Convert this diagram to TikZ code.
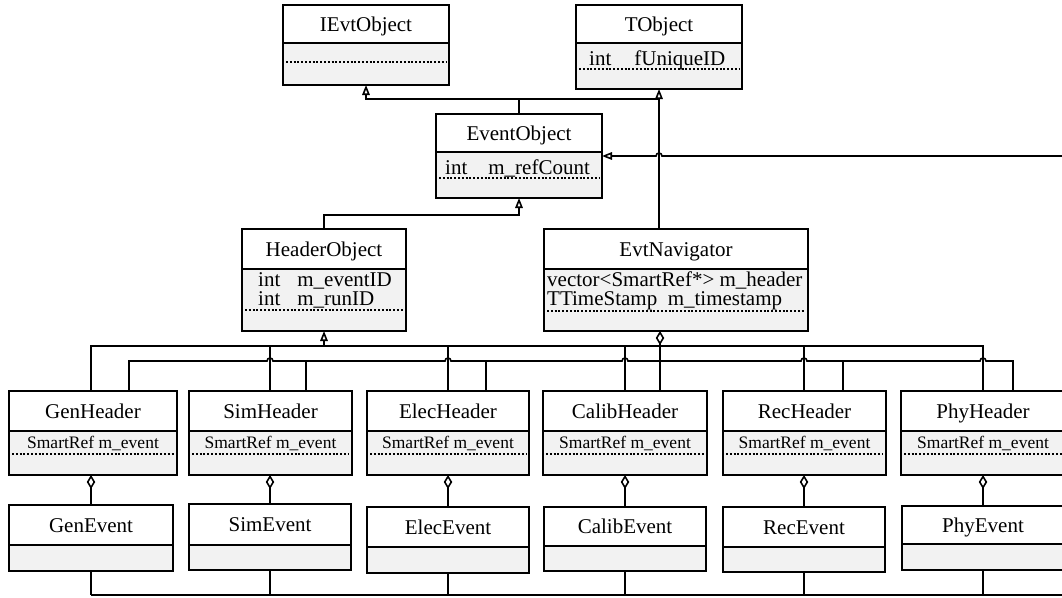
\documentclass[tikz,border=0pt]{standalone}
\usepackage{fontspec}
\setmainfont{Liberation Serif}
\usetikzlibrary{arrows.meta}
\definecolor{cfill}{HTML}{F2F2F2}
\tikzset{
  cls/.style={draw, line width=1.4pt, inner sep=0pt, outer sep=0pt, rectangle},
  ttl/.style={font=\fontsize{21}{24}\selectfont, inner sep=0pt, anchor=base},
  mem/.style={font=\fontsize{21}{24}\selectfont, inner sep=0pt, anchor=base west},
  hmem/.style={font=\fontsize{17.5}{20}\selectfont, inner sep=0pt, anchor=base},
  dotline/.style={line width=1.1pt, dash pattern=on 2pt off 1.8pt},
  conn/.style={line width=1.6pt},
  inh/.style={conn, -{Triangle[open, length=10pt, width=7.5pt]}},
  agg/.style={conn, -{Diamond[open, length=14pt, width=8.5pt]}},
}
% #1 name, #2 x1, #3 y1, #4 x2, #5 y2, #6 divider y, #7 title
\newcommand\umlbox[7]{%
  \fill[cfill] (#2,#6) rectangle (#4,#5);
  \draw[line width=1.4pt] (#2,#6) -- (#4,#6);
  \node[cls, minimum width={#4-#2}, minimum height={#5-#3}] (#1) at ({(#2+#4)/2},{(#3+#5)/2}) {};
  \node[ttl] (#1-t) at ({(#2+#4)/2},{(#3+#6)/2+7}) {#7};
}
% header box: #1 key, #2 x1, #3 x2, #4 title
\newcommand\hdrbox[4]{%
  \umlbox{H-#1}{#2}{391}{#3}{475}{431}{#4}
  \node[hmem] (H-#1-m) at ({(#2+#3)/2},448) {SmartRef m\_event};
  \draw[dotline] ({#2+3},454) -- ({#3-3},454);
}
\begin{document}
\begin{tikzpicture}[x=1pt,y=-1pt]
\fill[white] (0,0) rectangle (1062,597);
\useasboundingbox (0,0) rectangle (1062,597);

% top classes
\umlbox{ievt}{283}{5}{449}{85}{43}{IEvtObject}
\draw[dotline] (286,62) -- (446,62);

\umlbox{tobj}{576}{5}{742}{89}{43}{TObject}
\node[mem] (tobj-m) at (589,65) {int\hspace{23pt}fUniqueID};
\draw[dotline] (579,69) -- (739,69);

\umlbox{evobj}{436}{114}{602}{198}{152}{EventObject}
\node[mem] (evobj-m) at (445,174) {int\hspace{21pt}m\_refCount};
\draw[dotline] (439,178) -- (599,178);

\umlbox{hobj}{242}{229}{406}{331}{269}{HeaderObject}
\node[mem] (hobj-m1) at (258,286) {int\hspace{17pt}m\_eventID};
\node[mem] (hobj-m2) at (258,305) {int\hspace{17pt}m\_runID};
\draw[dotline] (245,310) -- (403,310);

\umlbox{nav}{544}{229}{808}{331}{269}{EvtNavigator}
\node[mem] (nav-m1) at (547,286) {vector<SmartRef*> m\_header};
\node[mem] (nav-m2) at (547,305) {TTimeStamp\ \ m\_timestamp};
\draw[dotline] (547,311) -- (805,311);

% headers
\hdrbox{gen}{9}{177}{GenHeader}
\hdrbox{sim}{189}{352}{SimHeader}
\hdrbox{elec}{367}{529}{ElecHeader}
\hdrbox{calib}{543}{707}{CalibHeader}
\hdrbox{rec}{723}{886}{RecHeader}
\hdrbox{phy}{901}{1065}{PhyHeader}

% events
\umlbox{E-gen}{9}{505}{173}{571}{545}{GenEvent}
\umlbox{E-sim}{189}{504}{351}{570}{545}{SimEvent}
\umlbox{E-elec}{367}{507}{529}{573}{547}{ElecEvent}
\umlbox{E-calib}{544}{507}{706}{571}{546}{CalibEvent}
\umlbox{E-rec}{723}{507}{885}{572}{547}{RecEvent}
\umlbox{E-phy}{902}{506}{1064}{570}{544}{PhyEvent}

% coordinates
\coordinate (top) at (0,99);
\coordinate (mid) at (0,215);
\coordinate (b1) at (0,346);
\coordinate (b2) at (0,361);
\coordinate (redge) at (1062,156);
\coordinate (bot) at (1062,595);
\coordinate (gB) at (129,391);
\coordinate (sB) at (306,391);
\coordinate (eB) at (486,391);
\coordinate (cB) at (660,391);
\coordinate (rB) at (843,391);
\coordinate (pB) at (1013,391);

% inheritance at top
\draw[inh] (evobj.north) |- (ievt.south |- top) -- (ievt.south);
\draw[conn] (evobj.north |- top) -- (tobj.south |- top);
\draw[inh] (nav.north -| tobj.south) -- (tobj.south);
\draw[inh] (hobj.north) |- (evobj.south |- mid) -- (evobj.south);
\draw[inh] (redge) -- (662,156) arc[start angle=0, end angle=-180, radius=3] -- (evobj.east);

% bus 1 (inheritance from HeaderObject)
\draw[conn] (E-gen.north |- H-gen.north) -- (E-gen.north |- b1) -- (E-phy.north |- b1) -- (E-phy.north |- H-phy.north);
\foreach \h in {sim,elec,calib,rec}
  \draw[conn] (E-\h.north |- H-\h.north) -- (E-\h.north |- b1);
\draw[inh] (hobj.south |- b1) -- (hobj.south);

% bus 2 (aggregation from EvtNavigator)
\draw[conn] (gB) -- (gB |- b2) -- (267,361) arc[start angle=180, end angle=360, radius=3]
  -- (445,361) arc[start angle=180, end angle=360, radius=3]
  -- (622,361) arc[start angle=180, end angle=360, radius=3]
  -- (801,361) arc[start angle=180, end angle=360, radius=3]
  -- (980,361) arc[start angle=180, end angle=360, radius=3]
  -- (pB |- b2) -- (pB);
\foreach \c in {sB,eB,rB}
  \draw[conn] (\c |- b2) -- (\c);
\draw[agg] (cB) -- (nav.south -| cB);

% header -> event aggregation and bottom line
\foreach \h in {gen,sim,elec,calib,rec,phy}{
  \draw[agg] (E-\h.north) -- (E-\h.north |- H-\h.south);
  \draw[conn] (E-\h.south) -- (E-\h.south |- bot);
}
\draw[conn] (E-gen.south |- bot) -- (bot);
\end{tikzpicture}
\end{document}
